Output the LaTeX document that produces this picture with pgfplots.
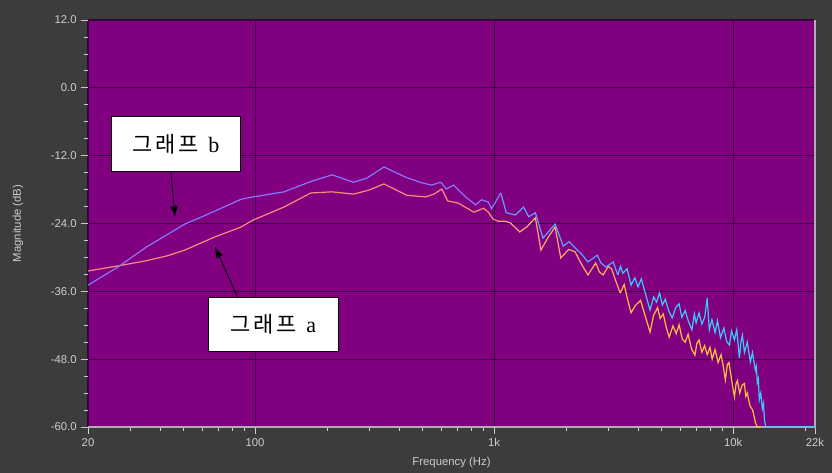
\documentclass[border=0pt]{standalone}
\usepackage{pgfplots}
\pgfplotsset{compat=1.18}
\usepackage{fontspec}
\setmainfont{Liberation Sans}
\newfontfamily\kr[LetterSpace=12]{Noto Sans CJK KR}
\newfontfamily\serif{Liberation Serif}
\usetikzlibrary{arrows.meta}
\definecolor{bgdark}{RGB}{60,60,60}
\definecolor{plotpurple}{RGB}{128,0,128}
\definecolor{gridc}{RGB}{55,0,65}
\definecolor{tickc}{RGB}{205,205,205}
\definecolor{framec}{RGB}{175,175,175}
\definecolor{bA}{RGB}{135,120,255}
\definecolor{bB}{RGB}{100,160,255}
\definecolor{bC}{RGB}{60,200,255}
\definecolor{aA}{RGB}{255,140,120}
\definecolor{aB}{RGB}{255,170,100}
\definecolor{aC}{RGB}{255,192,60}
\begin{document}
\begin{tikzpicture}
\fill[bgdark] (0,0) rectangle (624pt,354.75pt);
\begin{axis}[
  at={(66pt,34.5pt)}, anchor=south west,
  scale only axis, width=545.25pt, height=305.25pt,
  xmode=log, xmin=20, xmax=22000, ymin=-60, ymax=12,
  clip=false,
  axis background/.style={fill=plotpurple},
  axis line style={draw=none},
  xtick={20,100,1000,10000,22000}, xticklabels={20,100,1k,10k,22k},
  minor xtick={30,40,50,60,70,80,90,200,300,400,500,600,700,800,900,2000,3000,4000,5000,6000,7000,8000,9000,20000},
  ytick={-60,-48,-36,-24,-12,0,12},
  yticklabels={-60.0,-48.0,-36.0,-24.0,-12.0,0.0,12.0},
  minor y tick num=3,
  xtick pos=lower, ytick pos=lower,
  tick align=outside, major tick length=5pt, minor tick length=3pt,
  every tick/.style={tickc, line width=0.6pt},
  grid=major, major grid style={gridc, line width=0.8pt},
  ticklabel style={font=\fontsize{8.5}{10}\selectfont, text=tickc},
  /pgf/number format/assume math mode=true,
  xlabel={Frequency (Hz)}, ylabel={Magnitude (dB)},
  label style={font=\fontsize{8.5}{10}\selectfont, text=tickc},
  xlabel style={at={(axis description cs:0.5,-0.088)}, anchor=center},
  ylabel style={at={(axis description cs:-0.0963,0.5)}, anchor=center},
]
\draw[framec, line width=1.5pt] (rel axis cs:0,0) -- (rel axis cs:1,0) -- (rel axis cs:1,1);
% graph a (orange)
\addplot[aA, line width=0.9pt] coordinates {
(20,-32.4) (26.7,-31.5) (35,-30.6) (43.1,-29.7) (50.8,-28.7) (67.7,-26.4)
(87.6,-24.6) (98,-23.4) (132,-21.1) (171,-18.6) (210,-18.4) (258,-18.8)
(299,-18.1) (346,-17.0) (431,-19.0) (517,-19.3) (560,-18.8) (604,-17.9)
(639,-20.0) (709,-20.4) (822,-22.0) (903,-21.3) (946,-22.0) (989,-23.2) (1040,-23.6)
};
\addplot[aB, line width=0.9pt] coordinates {
(1040,-23.6) (1115,-23.6) (1170,-23.9) (1280,-25.5) (1370,-24.6) (1488,-23.0)
(1570,-28.7) (1680,-26.5) (1800,-24.6) (1900,-30.1) (2050,-28.6) (2180,-29.0)
(2320,-31.2) (2470,-33.1) (2660,-31.0) (2760,-32.6) (2860,-33.1) (3000,-31.6)
(3100,-32.0) (3230,-34.2) (3370,-36.3)
};
\addplot[aC, line width=0.9pt] coordinates {
(3370,-36.3) (3500,-34.8) (3620,-37.5) (3740,-39.8) (3900,-38.5) (4100,-37.6)
(4280,-40.3) (4490,-43.2) (4650,-40.2) (4830,-38.9) (4950,-40.8) (5100,-40.0)
(5250,-42.4) (5400,-44.1) (5600,-42.1) (5780,-43.5) (5940,-41.9) (6120,-44.4)
(6300,-45.0) (6480,-43.6) (6700,-46.2) (6920,-47.3) (7050,-45.2) (7200,-44.6)
(7400,-46.8) (7590,-45.6) (7790,-47.2) (8000,-45.9) (8170,-48.0) (8400,-46.3)
(8650,-48.6) (8900,-47.2) (9100,-49.4) (9280,-51.7) (9450,-49.0) (9600,-48.6)
(9850,-51.6) (10120,-54.7) (10280,-52.4) (10420,-51.8) (10650,-54.0) (10900,-52.6)
(11140,-52.3) (11300,-54.6) (11460,-54.0) (11750,-56.2) (12060,-57.0)
(12250,-58.2) (12400,-59.3) (12620,-60) (13000,-60)
};
% graph b (blue)
\addplot[bA, line width=0.9pt] coordinates {
(20,-34.9) (26.7,-31.7) (35,-28.2) (44.8,-25.5) (50.8,-24.1) (60,-22.8)
(69.6,-21.6) (87.6,-19.7) (98,-19.3) (132,-18.4) (173,-16.5) (210,-15.4)
(258,-16.7) (293,-16.0) (346,-14.0) (426,-15.8) (498,-16.8) (548,-17.2)
(598,-16.7) (632,-17.9) (676,-17.2) (760,-19.3) (836,-20.7) (886,-19.8)
(946,-20.2) (975,-21.4) (1066,-18.6)
};
\addplot[bB, line width=0.9pt] coordinates {
(1066,-18.6) (1125,-22.1) (1226,-22.5) (1328,-21.1) (1395,-22.8) (1488,-22.1)
(1601,-26.6) (1800,-24.1) (1946,-28.0) (2060,-27.2) (2180,-28.3) (2320,-29.4)
(2470,-30.8) (2700,-29.6) (2800,-31.0) (2936,-31.7) (3150,-30.8) (3290,-33.1)
};
\addplot[bC, line width=0.9pt] coordinates {
(3290,-33.1) (3380,-31.6) (3456,-32.8) (3600,-32.0) (3740,-34.9) (3880,-33.6)
(4000,-35.2) (4130,-33.8) (4300,-36.5) (4490,-39.3) (4650,-37.0) (4780,-37.9)
(4920,-36.3) (5060,-38.4) (5200,-37.4) (5380,-39.5) (5560,-40.7) (5750,-38.9)
(5940,-38.2) (6100,-40.6) (6300,-39.4) (6500,-41.3) (6720,-42.8) (6880,-40.0)
(7000,-41.6) (7200,-39.8) (7400,-41.8) (7600,-40.6) (7790,-37.2) (7950,-42.8)
(8150,-41.0) (8400,-43.3) (8600,-41.2) (8850,-44.2) (9140,-42.5) (9400,-44.9)
(9640,-45.5) (9850,-43.0) (10120,-44.6) (10350,-42.8) (10620,-47.8) (10780,-45.0)
(10930,-43.8) (11150,-46.8) (11460,-45.0) (11650,-47.0) (11800,-48.5) (12050,-46.8)
(12380,-50.0) (12500,-49.3) (12620,-52.2) (12750,-51.5) (12860,-55.2) (13050,-54.0)
(13240,-56.8) (13400,-55.8) (13520,-58.8) (13700,-60) (22000,-60)
};
\end{axis}
% annotations
\node[draw=black, fill=white, line width=0.5pt, minimum width=96.75pt, minimum height=41.25pt,
      anchor=south west, inner sep=0pt] at (83.25pt,225.75pt)
      {\kr\fontsize{16.5}{18}\selectfont 그래프\hspace{0.45em}{\serif b}};
\node[draw=black, fill=white, line width=0.5pt, minimum width=97.5pt, minimum height=40.5pt,
      anchor=south west, inner sep=0pt] at (156pt,90.75pt)
      {\kr\fontsize{16.5}{18}\selectfont 그래프\hspace{0.45em}{\serif a}};
\draw[black, line width=0.6pt, -{Latex[length=8pt,width=6pt]}] (128.25pt,225.75pt) -- (131.25pt,192pt);
\draw[black, line width=0.6pt, -{Latex[length=8pt,width=6pt]}] (178.5pt,131.25pt) -- (161.25pt,169.5pt);
\end{tikzpicture}
\end{document}
